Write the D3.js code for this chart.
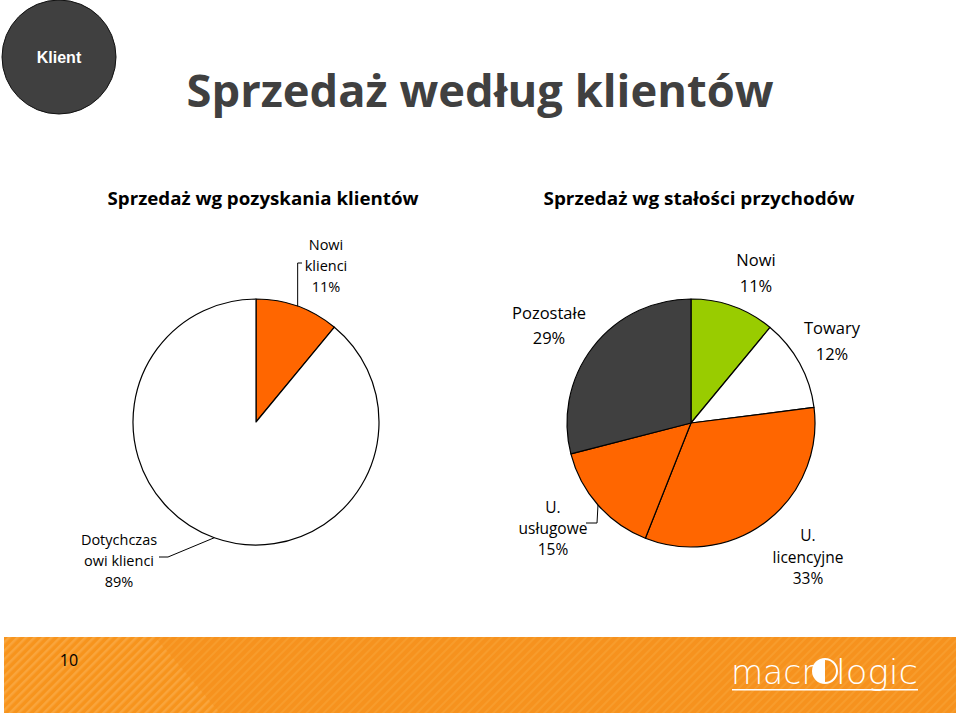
<!DOCTYPE html>
<html>
<head>
<meta charset="utf-8">
<script src="https://cdn.jsdelivr.net/npm/d3@7"></script>
<style>
  body { margin: 0; background: #fff; }
  svg { display: block; }
  text { font-family: "Open Sans", "Noto Sans", sans-serif; }
</style>
</head>
<body>
<svg id="chart" width="960" height="716"></svg>
<script>
const mainTitle = "Sprzedaż według klientów";
const leftTitle = "Sprzedaż wg pozyskania klientów";
const rightTitle = "Sprzedaż wg stałości przychodów";

// left pie: acquisition
const leftNames = ["Nowi klienci", "Dotychczasowi klienci"];
const leftValues = [11, 89];
const leftColors = ["#ff6600", "#ffffff"];

// right pie: revenue stability
const rightNames = ["Nowi", "Towary", "U. licencyjne", "U. usługowe", "Pozostałe"];
const rightValues = [11, 12, 33, 15, 29];
const rightColors = ["#99cc00", "#ffffff", "#ff6600", "#ff6600", "#404040"];

const pageNo = "10";

const svg = d3.select("#chart");
const W = 960, H = 716;

// header bubble
svg.append("circle")
  .attr("cx", 59).attr("cy", 57).attr("r", 57)
  .attr("fill", "#404040").attr("stroke", "#111").attr("stroke-width", 1);
svg.append("text")
  .attr("x", 59).attr("y", 63)
  .attr("text-anchor", "middle")
  .style("font-family", "Liberation Sans, Arial, sans-serif")
  .style("font-weight", "bold").style("font-size", "16px")
  .attr("fill", "#fff")
  .text("Klient");

svg.append("text")
  .attr("x", 480).attr("y", 107)
  .attr("text-anchor", "middle")
  .attr("textLength", 587).attr("lengthAdjust", "spacingAndGlyphs")
  .style("font-weight", 700).style("font-size", "44px")
  .attr("fill", "#404040")
  .text(mainTitle);

[[leftTitle, 263], [rightTitle, 699]].forEach(([t, cx]) => {
  svg.append("text")
    .attr("x", cx).attr("y", 205)
    .attr("text-anchor", "middle")
    .attr("textLength", 311).attr("lengthAdjust", "spacingAndGlyphs")
    .style("font-weight", 700).style("font-size", "17px")
    .attr("fill", "#000")
    .text(t);
});

const pie = d3.pie().sort(null).value(d => d.value);

function drawPie(cx, cy, r, names, values, colors) {
  const data = names.map((n, i) => ({ name: n, value: values[i], color: colors[i] }));
  const arcs = pie(data);
  const arc = d3.arc().innerRadius(0).outerRadius(r);
  const edge = d3.arc().innerRadius(r).outerRadius(r);
  const g = svg.append("g").attr("transform", `translate(${cx},${cy})`);
  g.selectAll("path")
    .data(arcs)
    .enter().append("path")
    .attr("d", arc)
    .attr("fill", d => d.data.color)
    .attr("stroke", "#000")
    .attr("stroke-width", 1.2)
    .attr("stroke-linejoin", "round");
  // anchor points on the rim at each slice's mid angle
  return arcs.map(a => {
    const p = edge.centroid(a);
    return [cx + p[0], cy + p[1]];
  });
}

const leftRim = drawPie(256, 422, 123, leftNames, leftValues, leftColors);
const rightRim = drawPie(691, 423, 124, rightNames, rightValues, rightColors);

function leader(points) {
  svg.append("path")
    .attr("d", d3.line()(points))
    .attr("fill", "none")
    .attr("stroke", "#000")
    .attr("stroke-width", 1);
}

function label(x, lines, ys, size) {
  lines.forEach((l, i) => {
    svg.append("text")
      .attr("x", x).attr("y", ys[i])
      .attr("text-anchor", "middle")
      .style("font-size", size + "px")
      .attr("fill", "#000")
      .text(l);
  });
}

// left pie labels
leader([leftRim[0], [leftRim[0][0], 263], [302, 263]]);
label(326, ["Nowi", "klienci", leftValues[0] + "%"], [250, 271, 292], 14.5);

leader([leftRim[1], [168, 557], [159, 557]]);
label(119, ["Dotychczas", "owi klienci", leftValues[1] + "%"], [545, 566, 587], 14.5);

// right pie labels
label(756, ["Nowi", rightValues[0] + "%"], [266, 292], 16.5);
label(832, ["Towary", rightValues[1] + "%"], [334, 360], 16.5);
label(549, ["Pozostałe", rightValues[4] + "%"], [319, 344], 16.5);
leader([rightRim[3], [597, 523], [586, 523]]);
label(553, ["U.", "usługowe", rightValues[3] + "%"], [513, 534, 555], 15.5);
label(808, ["U.", "licencyjne", rightValues[2] + "%"], [541, 563, 584], 15.5);

// footer band
const defs = svg.append("defs");
const pat = defs.append("pattern")
  .attr("id", "stripes")
  .attr("patternUnits", "userSpaceOnUse")
  .attr("width", 6).attr("height", 6)
  .attr("patternTransform", "rotate(45)");
pat.append("rect").attr("width", 6).attr("height", 6).attr("fill", "#f7941d");
pat.append("rect").attr("width", 2.5).attr("height", 6).attr("fill", "#f9a53c");

const pat2 = defs.append("pattern")
  .attr("id", "stripes2")
  .attr("patternUnits", "userSpaceOnUse")
  .attr("width", 6).attr("height", 6)
  .attr("patternTransform", "rotate(45)");
pat2.append("rect").attr("width", 6).attr("height", 6).attr("fill", "#f6921e");
pat2.append("rect").attr("width", 2, ).attr("height", 6).attr("fill", "#f79c2c");

svg.append("rect")
  .attr("x", 4).attr("y", 637).attr("width", 952).attr("height", 76)
  .attr("fill", "url(#stripes2)");
svg.append("path")
  .attr("d", "M4,637 L155,637 L220,713 L4,713 Z")
  .attr("fill", "url(#stripes)");

svg.append("text")
  .attr("x", 69).attr("y", 666)
  .attr("text-anchor", "middle")
  .style("font-size", "16px")
  .attr("fill", "#000")
  .text(pageNo);

// logo
const logo = svg.append("g").attr("fill", "#fff");
logo.append("text")
  .attr("x", 731).attr("y", 684)
  .style("font-family", "DejaVu Sans, sans-serif")
  .style("font-size", "33px").style("font-weight", 300)
  .attr("textLength", 84).attr("lengthAdjust", "spacingAndGlyphs")
  .text("macr");
logo.append("text")
  .attr("x", 836).attr("y", 684)
  .style("font-family", "DejaVu Sans, sans-serif")
  .style("font-size", "33px").style("font-weight", 300)
  .attr("textLength", 82).attr("lengthAdjust", "spacingAndGlyphs")
  .text("logic");
logo.append("circle")
  .attr("cx", 825).attr("cy", 671).attr("r", 12)
  .attr("fill", "none").attr("stroke", "#fff").attr("stroke-width", 2);
logo.append("path")
  .attr("d", d3.arc()({ innerRadius: 0, outerRadius: 12, startAngle: Math.PI, endAngle: 2 * Math.PI }))
  .attr("transform", "translate(825,671)");
logo.append("rect")
  .attr("x", 732).attr("y", 689).attr("width", 186).attr("height", 1.5);
</script>
</body>
</html>
